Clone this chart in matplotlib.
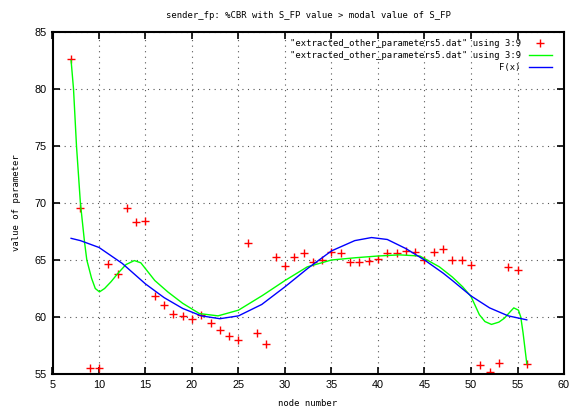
import matplotlib
matplotlib.use('Agg')
import matplotlib.pyplot as plt
from matplotlib import rcParams

config = {
    "font.family": 'DejaVu Sans Mono',
    "font.size": 6.4,
}
rcParams.update(config)

# data points (column 3 vs column 9)
node = [7, 8, 9, 10, 11, 12, 13, 14, 15, 16, 17, 18, 19, 20, 21, 22, 23, 24, 25, 26,
        27, 28, 29, 30, 31, 32, 33, 34, 35, 36, 37, 38, 39, 40, 41, 42, 43, 44, 45, 46,
        47, 48, 49, 50, 51, 52, 53, 54, 55, 56]
value = [82.6, 69.6, 55.5, 55.5, 64.65, 63.8, 69.6, 68.3, 68.4, 61.8,
         61.05, 60.3, 60.1, 59.8, 60.2, 59.5, 58.9, 58.3, 58.0, 66.5,
         58.6, 57.6, 65.3, 64.5, 65.3, 65.6, 64.8, 65.0, 65.7, 65.6,
         64.8, 64.8, 64.9, 65.1, 65.6, 65.6, 65.8, 65.7, 65.0, 65.7,
         66.0, 65.0, 65.0, 64.6, 55.8, 55.2, 56.0, 64.4, 64.1, 55.9]

# smoothed curve
smooth_x = [7.0, 7.26, 7.58, 8.0, 8.44, 8.69, 9.2, 9.6, 10.05, 10.6, 11.3, 12.0, 12.9,
            13.8, 14.5, 16.0, 17.4, 19.0, 20.8, 22.8, 25.0, 27.6, 30.0, 32.4, 35.0,
            37.6, 40.0, 42.3, 44.5, 46.6, 48.0, 49.1, 50.0, 50.9, 51.5, 52.2, 53.0,
            53.6, 54.2, 54.6, 55.1, 55.35, 55.6, 56.0]
smooth_y = [82.5, 80.0, 75.0, 70.0, 66.6, 65.0, 63.4, 62.5, 62.2, 62.5, 63.1, 63.8, 64.6,
            64.95, 64.75, 63.2, 62.2, 61.2, 60.3, 60.1, 60.6, 61.9, 63.2, 64.4, 65.0,
            65.2, 65.35, 65.45, 65.35, 64.4, 63.5, 62.65, 61.8, 60.2, 59.6, 59.35, 59.55,
            59.9, 60.45, 60.8, 60.6, 60.0, 58.6, 55.9]

# fitted function F(x)
fit_x = [7, 8, 10, 12.5, 15, 17, 19, 21, 23, 25, 27.5, 30, 32.5, 35, 37.5, 39.3, 41,
         43, 45, 47, 48, 50, 52, 54, 56]
fit_y = [66.9, 66.7, 66.1, 64.7, 62.9, 61.7, 60.75, 60.1, 59.85, 60.1, 61.1, 62.65,
         64.3, 65.8, 66.7, 66.97, 66.8, 66.0, 65.0, 63.85, 63.2, 61.85, 60.8, 60.1, 59.75]

fig = plt.figure(figsize=(5.71, 4.07), dpi=100)
ax = fig.add_axes([52.5 / 571, 1 - 374 / 407, 511.5 / 571, 342 / 407])

ax.plot(node, value, linestyle='none', marker='+', markersize=5.5, markeredgewidth=1,
        color='#ff0000', label='"extracted_other_parameters5.dat" using 3:9')
ax.plot(smooth_x, smooth_y, linestyle='-', linewidth=1, color='#00ff00',
        label='"extracted_other_parameters5.dat" using 3:9')
ax.plot(fit_x, fit_y, linestyle='-', linewidth=1, color='#0000ff', label='F(x)')

ax.set_xlim(5, 60)
ax.set_ylim(55, 85)
ax.set_xticks(range(5, 61, 5))
ax.set_yticks(range(55, 86, 5))
ax.tick_params(direction='in', length=5, width=1.2, top=True, right=True,
               labelsize=7.8, labelfontfamily='Liberation Sans', pad=4)
ax.grid(True, linestyle=(0, (1, 4)), linewidth=0.8, color='#555555')
for s in ax.spines.values():
    s.set_linewidth(1.5)

ax.set_title('sender_fp: %CBR with S_FP value > modal value of S_FP', fontsize=6.4, pad=10)
ax.set_ylabel('value of parameter', labelpad=10)
fig.text(308 / 571, 1 - 404 / 407, 'node number', ha='center', va='center')

ax.legend(loc='upper right', bbox_to_anchor=(0.99, 1.0), frameon=False, markerfirst=False,
          handlelength=2.6, handletextpad=0.9, labelspacing=0.35, borderaxespad=0.4,
          fontsize=6.4)

plt.savefig('out.png', dpi=100)
